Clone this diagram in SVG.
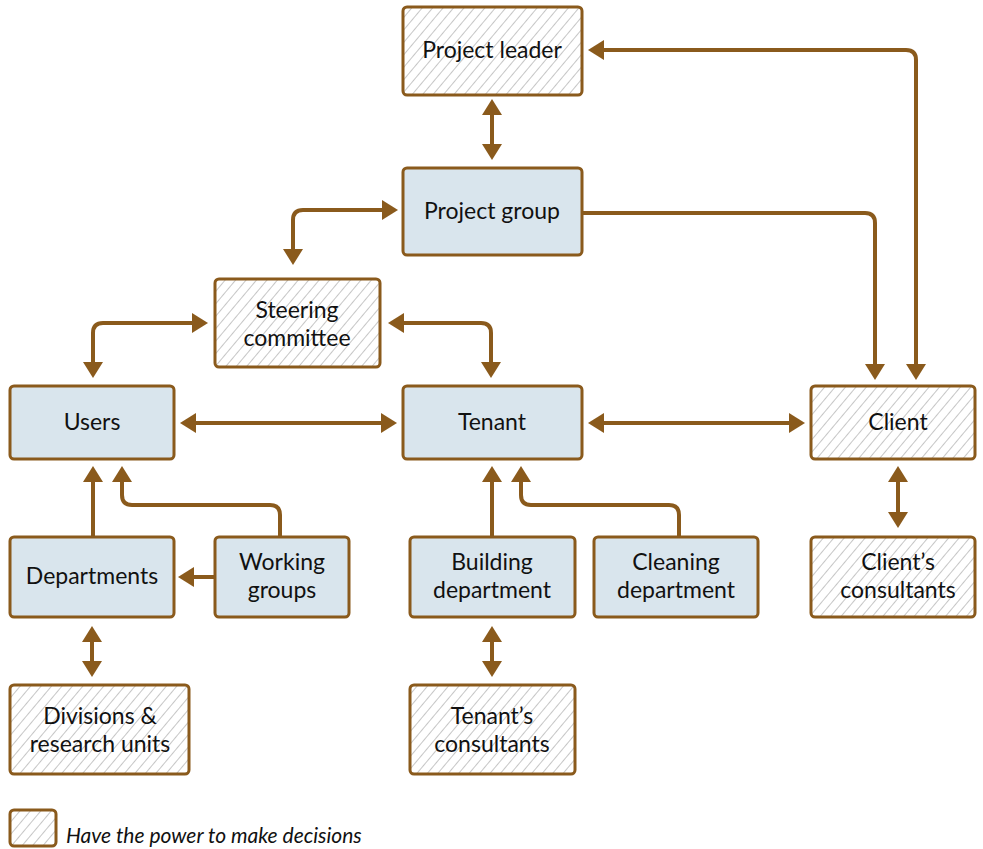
<svg xmlns="http://www.w3.org/2000/svg" width="983" height="849" viewBox="0 0 983 849">
  <style>
    .box { stroke: #8a5a1c; stroke-width: 3; }
    .blue { fill: #d9e5ed; }
    .hatch { fill: url(#hatch); }
    .lbl { font-family: Lato, "Open Sans", sans-serif; font-size: 23px; fill: #111; text-anchor: middle; }
    .note { font-family: Lato, "Open Sans", sans-serif; font-size: 21px; font-style: italic; fill: #111; }
    .conn { fill: none; stroke: #8a5a1c; stroke-width: 4; marker-end: url(#arrow); }
    .both { marker-start: url(#arrow); }
  </style>
  <defs>
    <pattern id="hatch" patternUnits="userSpaceOnUse" width="8" height="8" patternTransform="rotate(40)">
      <rect width="8" height="8" fill="#ffffff"/>
      <line x1="0" y1="0" x2="0" y2="8" stroke="#c6c6c6" stroke-width="2"/>
    </pattern>
    <marker id="arrow" markerUnits="userSpaceOnUse" viewBox="0 0 16 20" refX="0" refY="10" markerWidth="16" markerHeight="20" orient="auto-start-reverse">
      <path d="M0,0 L16,10 L0,20 Z" fill="#8a5a1c"/>
    </marker>
  </defs>

  <rect width="983" height="849" fill="#ffffff"/>

  <g id="connectors">
    <path class="conn both" d="M492,115 V144"/>
    <path class="conn both" d="M604,50 H906 Q916,50 916,60 V364"/>
    <path class="conn" d="M583,213 H865 Q875,213 875,223 V364"/>
    <path class="conn both" d="M293,249 V220 Q293,210 303,210 H382"/>
    <path class="conn both" d="M93,362 V333 Q93,323 103,323 H192"/>
    <path class="conn both" d="M404,323 H481 Q491,323 491,333 V362"/>
    <path class="conn both" d="M196,423 H381"/>
    <path class="conn both" d="M604,423 H789"/>
    <path class="conn" d="M93,537 V482"/>
    <path class="conn" d="M280,537 V515 Q280,505 270,505 H132 Q122,505 122,495 V482"/>
    <path class="conn" d="M215,577 H194"/>
    <path class="conn" d="M492,537 V482"/>
    <path class="conn" d="M679,537 V515 Q679,505 669,505 H531 Q521,505 521,495 V482"/>
    <path class="conn both" d="M898,482 V512"/>
    <path class="conn both" d="M92,642 V661"/>
    <path class="conn both" d="M492,642 V661"/>
  </g>

  <g id="project-leader">
    <rect class="box hatch" x="403" y="7" width="179" height="88" rx="4"/>
    <text class="lbl" x="492" y="58">Project leader</text>
  </g>
  <g id="project-group">
    <rect class="box blue" x="403" y="168" width="179" height="87" rx="4"/>
    <text class="lbl" x="492" y="219">Project group</text>
  </g>
  <g id="steering-committee">
    <rect class="box hatch" x="215" y="279" width="165" height="88" rx="4"/>
    <text class="lbl"><tspan x="297" y="318">Steering</tspan><tspan x="297" y="345.7">committee</tspan></text>
  </g>
  <g id="users">
    <rect class="box blue" x="10" y="386" width="164" height="73" rx="4"/>
    <text class="lbl" x="92" y="430">Users</text>
  </g>
  <g id="tenant">
    <rect class="box blue" x="403" y="386" width="179" height="73" rx="4"/>
    <text class="lbl" x="492" y="430">Tenant</text>
  </g>
  <g id="client">
    <rect class="box hatch" x="811" y="386" width="164" height="73" rx="4"/>
    <text class="lbl" x="898" y="430">Client</text>
  </g>
  <g id="departments">
    <rect class="box blue" x="10" y="537" width="164" height="80" rx="4"/>
    <text class="lbl" x="92" y="584">Departments</text>
  </g>
  <g id="working-groups">
    <rect class="box blue" x="215" y="537" width="134" height="80" rx="4"/>
    <text class="lbl"><tspan x="282" y="570">Working</tspan><tspan x="282" y="597.7">groups</tspan></text>
  </g>
  <g id="building-department">
    <rect class="box blue" x="410" y="537" width="165" height="80" rx="4"/>
    <text class="lbl"><tspan x="492" y="570">Building</tspan><tspan x="492" y="597.7">department</tspan></text>
  </g>
  <g id="cleaning-department">
    <rect class="box blue" x="594" y="537" width="164" height="80" rx="4"/>
    <text class="lbl"><tspan x="676" y="570">Cleaning</tspan><tspan x="676" y="597.7">department</tspan></text>
  </g>
  <g id="clients-consultants">
    <rect class="box hatch" x="811" y="537" width="164" height="80" rx="4"/>
    <text class="lbl"><tspan x="898" y="570">Client’s</tspan><tspan x="898" y="597.7">consultants</tspan></text>
  </g>
  <g id="divisions">
    <rect class="box hatch" x="10" y="685" width="179" height="89" rx="4"/>
    <text class="lbl"><tspan x="100" y="724">Divisions &amp;</tspan><tspan x="100" y="751.7">research units</tspan></text>
  </g>
  <g id="tenants-consultants">
    <rect class="box hatch" x="410" y="685" width="165" height="89" rx="4"/>
    <text class="lbl"><tspan x="492" y="724">Tenant’s</tspan><tspan x="492" y="751.7">consultants</tspan></text>
  </g>

  <g id="legend">
    <rect class="box hatch" x="10" y="810" width="46" height="36" rx="4"/>
    <text class="note" x="66" y="843">Have the power to make decisions</text>
  </g>
</svg>
